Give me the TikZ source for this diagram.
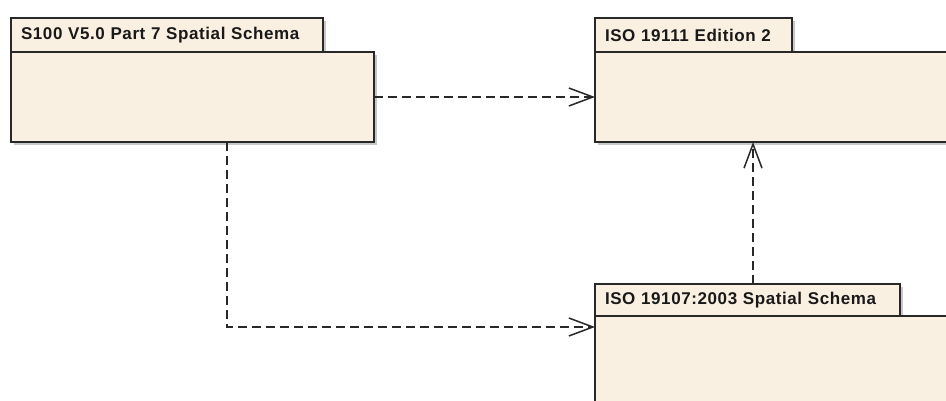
\documentclass[tikz,border=0pt]{standalone}
\usepackage{fontspec}
\setmainfont{Liberation Sans}
\newfontfamily\tabfont[LetterSpace=3.5]{Liberation Sans}
\usetikzlibrary{arrows.meta,calc}
\definecolor{pkgfill}{RGB}{250,240,226}
\definecolor{pkgline}{RGB}{40,40,40}
\definecolor{shadowc}{RGB}{200,200,200}
\tikzset{
  pkgbody/.style={draw=pkgline, fill=pkgfill, line width=1.6pt, anchor=north west, inner sep=0pt, outer sep=0pt},
  pkgtab/.style={draw=pkgline, fill=pkgfill, line width=1.6pt, anchor=north west, inner xsep=10pt, inner ysep=0pt, outer sep=0pt, align=left,
    font=\tabfont\fontsize{17}{20}\selectfont\bfseries, text=black!90},
  dep/.style={draw=pkgline, line width=1.5pt, dash pattern=on 9pt off 5pt, -{Straight Barb[length=24pt,width=18pt,line width=1.5pt]}},
  shadow/.style={fill=shadowc, draw=none}
}
\begin{document}
\begin{tikzpicture}[x=1pt,y=-1pt]
\useasboundingbox (0,0) rectangle (946,401);
\clip (0,0) rectangle (946,401);
% shadows
\fill[shadowc] (14,21) rectangle (326,55);
\fill[shadowc] (14,55) rectangle (377,145);
\fill[shadowc] (598,21) rectangle (795,55);
\fill[shadowc] (598,55) rectangle (990,145);
\fill[shadowc] (598,287) rectangle (903,319);
\fill[shadowc] (598,319) rectangle (990,450);
% package 1
\node[pkgbody, minimum width=363pt, minimum height=90pt] (b1) at (11,52) {};
\node[pkgtab, text width=292pt, minimum height=34pt] (t1) at (11,18) {S100 V5.0 Part 7 Spatial Schema};
% package 2
\node[pkgbody, minimum width=400pt, minimum height=90pt] (b2) at (595,52) {};
\node[pkgtab, text width=177pt, minimum height=34pt] (t2) at (595,18) {ISO 19111 Edition 2};
% package 3
\node[pkgbody, minimum width=400pt, minimum height=120pt] (b3) at (595,316) {};
\node[pkgtab, text width=285pt, minimum height=32pt] (t3) at (595,284) {ISO 19107:2003 Spatial Schema};
% connectors
\draw[dep] (b1.east) -- (b2.west);
\draw[dep] ($(b1.south west)+(216,0)$) |- ($(b3.north west)+(0,11)$);
\draw[dep] ($(t3.north west)+(158,0)$) -- ($(b2.south west)+(158,0)$);
\end{tikzpicture}
\end{document}
